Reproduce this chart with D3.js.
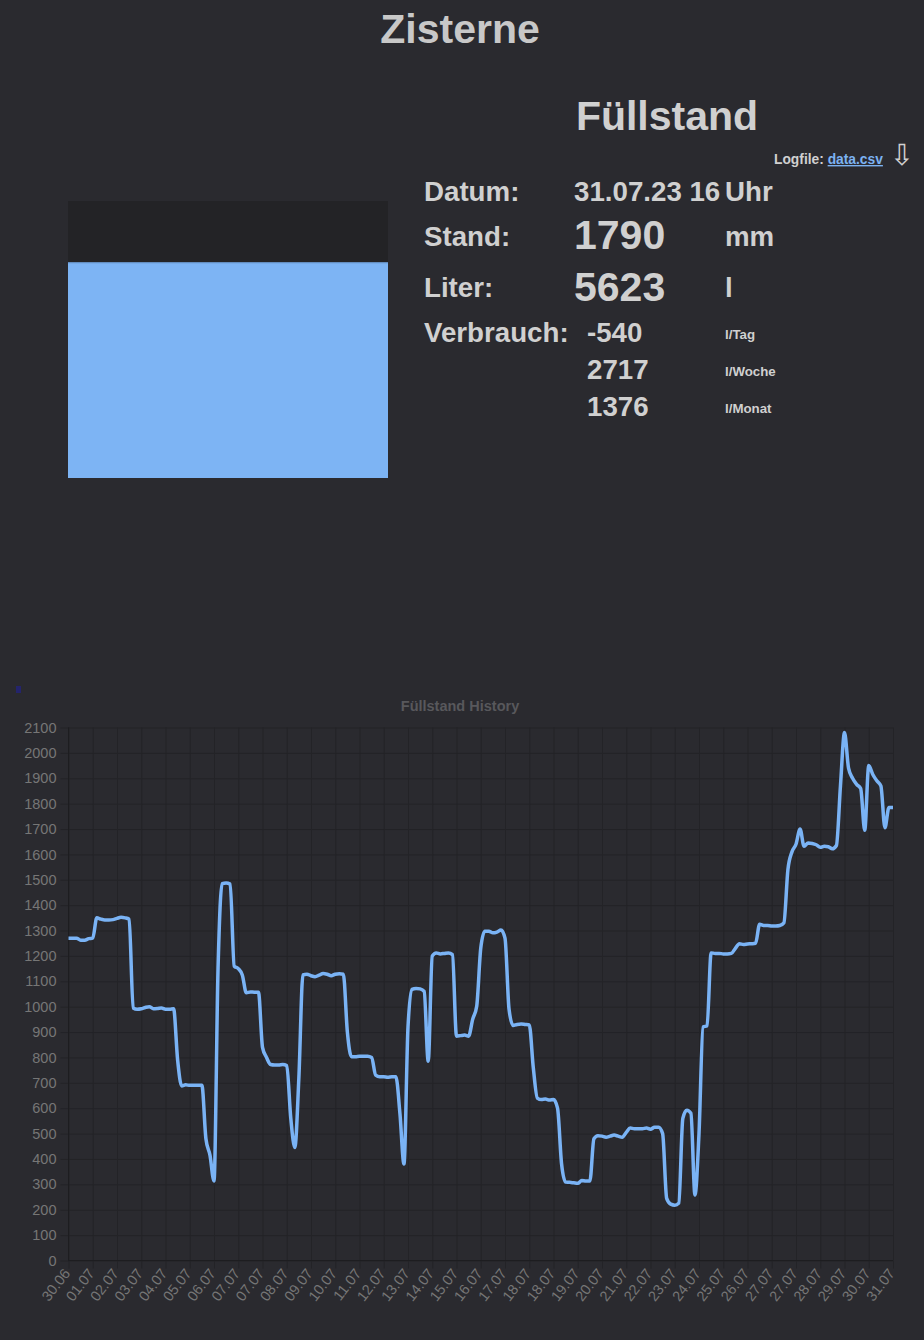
<!DOCTYPE html>
<html>
<head>
<meta charset="utf-8">
<title>Zisterne</title>
<script src="https://cdn.jsdelivr.net/npm/d3@7"></script>
<style>
	body { margin: 0; background: #2a2a2f; }
	svg { display: block; font-family: "Liberation Sans", Arial, sans-serif; }
	.grid line { stroke: #232327; }
	.grid path { display: none; }
	.axis path { display: none; }
	.axis line { stroke: #232327; }
	.axis text { fill: #767676; font-size: 14.5px; }
</style>
</head>
<body>
<svg id="page" width="924" height="1340"></svg>
<script>
// tick labels of the history chart (one every 6 readings)
var tickLabels = ["30.06", "01.07", "02.07", "03.07", "04.07", "05.07", "06.07", "07.07", "07.07",
	"08.07", "09.07", "10.07", "11.07", "12.07", "13.07", "14.07", "15.07", "16.07", "17.07",
	"18.07", "18.07", "19.07", "20.07", "21.07", "22.07", "23.07", "24.07", "25.07", "26.07",
	"27.07", "27.07", "28.07", "29.07", "30.07", "31.07"];
var tickEvery = 6;

// Füllstand in mm
var levels = [
	1270, 1270, 1270, 1262, 1262, 1268,
	1270, 1350, 1345, 1342, 1342, 1343,
	1348, 1352, 1350, 1345, 995, 990,
	992, 997, 1000, 992, 993, 995,
	990, 990, 992, 790, 688, 692,
	690, 690, 690, 690, 480, 415,
	313, 1150, 1485, 1487, 1483, 1160,
	1150, 1125, 1055, 1058, 1057, 1057,
	840, 800, 772, 770, 770, 772,
	768, 560, 445, 720, 1125, 1128,
	1122, 1118, 1124, 1131, 1128, 1122,
	1128, 1130, 1128, 900, 803, 803,
	805, 805, 805, 800, 730, 724,
	724, 722, 724, 724, 580, 380,
	920, 1068, 1072, 1070, 1060, 785,
	1200, 1212, 1208, 1210, 1212, 1205,
	884, 886, 888, 884, 950, 1002,
	1230, 1297, 1297, 1291, 1294, 1302,
	1270, 990, 926, 930, 932, 930,
	928, 760, 640, 634, 636, 632,
	634, 600, 380, 309, 308, 306,
	304, 315, 313, 313, 480, 492,
	490, 486, 490, 494, 490, 486,
	505, 522, 519, 519, 519, 522,
	517, 525, 525, 500, 245, 222,
	218, 226, 560, 592, 580, 258,
	500, 920, 925, 1212, 1210, 1210,
	1208, 1208, 1210, 1230, 1248, 1245,
	1247, 1248, 1250, 1325, 1320, 1320,
	1318, 1318, 1320, 1330, 1540, 1610,
	1640, 1700, 1632, 1645, 1643, 1638,
	1628, 1632, 1630, 1622, 1635, 1870,
	2080, 1940, 1900, 1876, 1860, 1695,
	1950, 1915, 1890, 1870, 1705, 1785,
	1785
];

// current readings
var infoLabels = ["Datum:", "Stand:", "Liter:", "Verbrauch:"];
var datum = "31.07.23 16";
var stand = 1790;
var liter = 5623;
var tankMax = 2300;
var verbrauch = [-540, 2717, 1376];
var verbrauchUnits = ["l/Tag", "l/Woche", "l/Monat"];

var svg = d3.select("#page");
var textColor = "#d0d0d0";

svg.append("text")
	.attr("x", 460).attr("y", 43)
	.attr("text-anchor", "middle")
	.attr("font-size", 41).attr("font-weight", "bold")
	.attr("fill", "#c8c8c8")
	.text("Zisterne");

// tank
var tank = { x: 68, top: 201, bottom: 478, width: 320 };
var tankScale = d3.scaleLinear().domain([0, tankMax]).range([tank.bottom, tank.top]);

svg.append("rect")
	.attr("x", tank.x).attr("y", tank.top)
	.attr("width", tank.width).attr("height", tank.bottom - tank.top)
	.attr("fill", "#232326");
svg.append("rect")
	.attr("x", tank.x).attr("y", tankScale(stand))
	.attr("width", tank.width).attr("height", tank.bottom - tankScale(stand))
	.attr("fill", "#7db4f4");
svg.append("line")
	.attr("x1", tank.x).attr("x2", tank.x + tank.width)
	.attr("y1", tankScale(stand) + 0.5).attr("y2", tankScale(stand) + 0.5)
	.attr("stroke", "#6c9dd6");

// info panel
svg.append("text")
	.attr("x", 667).attr("y", 130)
	.attr("text-anchor", "middle")
	.attr("font-size", 41).attr("font-weight", "bold")
	.attr("fill", textColor)
	.text("Füllstand");

var log = svg.append("text")
	.attr("x", 774).attr("y", 164)
	.attr("font-size", 13.8).attr("font-weight", "bold")
	.attr("fill", textColor);
log.append("tspan").text("Logfile: ");
log.append("tspan").attr("fill", "#7cb2f2").attr("text-decoration", "underline").text("data.csv");

svg.append("text")
	.attr("x", 902).attr("y", 165)
	.attr("text-anchor", "middle")
	.attr("font-family", "DejaVu Sans")
	.attr("font-size", 29)
	.attr("fill", textColor)
	.text("\u21E9");

var rowY = [201, 246, 297, 342];
var labelSize = 27.7;
var info = svg.append("g")
	.attr("font-weight", "bold")
	.attr("fill", textColor);

info.selectAll(".lbl")
	.data(infoLabels)
	.enter()
	.append("text")
	.attr("class", "lbl")
	.attr("x", 424)
	.attr("y", function (d, i) { return rowY[i]; })
	.attr("font-size", labelSize)
	.text(function (d) { return d; });

info.append("text").attr("x", 574).attr("y", rowY[0]).attr("font-size", labelSize).text(datum);
info.append("text").attr("x", 725).attr("y", rowY[0]).attr("font-size", labelSize).text("Uhr");
info.append("text").attr("x", 574).attr("y", rowY[1] + 3).attr("font-size", 41).text(stand);
info.append("text").attr("x", 725).attr("y", rowY[1]).attr("font-size", labelSize).text("mm");
info.append("text").attr("x", 574).attr("y", rowY[2] + 4).attr("font-size", 41).text(liter);
info.append("text").attr("x", 725).attr("y", rowY[2]).attr("font-size", labelSize).text("l");

info.selectAll(".vb")
	.data(verbrauch)
	.enter()
	.append("text")
	.attr("class", "vb")
	.attr("x", 587)
	.attr("y", function (d, i) { return rowY[3] + i * 37; })
	.attr("font-size", labelSize)
	.text(function (d) { return d; });

info.selectAll(".vu")
	.data(verbrauchUnits)
	.enter()
	.append("text")
	.attr("class", "vu")
	.attr("x", 725)
	.attr("y", function (d, i) { return rowY[3] - 3 + i * 37; })
	.attr("font-size", 13.3)
	.text(function (d) { return d; });

// history chart
var plot = { left: 68.5, right: 893, top: 727.5, bottom: 1260.5 };

svg.append("rect")
	.attr("x", 16).attr("y", 686)
	.attr("width", 5).attr("height", 7)
	.attr("fill", "#24246c");

svg.append("text")
	.attr("x", 460).attr("y", 711)
	.attr("text-anchor", "middle")
	.attr("font-size", 14.5).attr("font-weight", "bold")
	.attr("fill", "#58585c")
	.text("Füllstand History");

var xScale = d3.scaleLinear().domain([0, levels.length - 1]).range([plot.left, plot.right]);
var yScale = d3.scaleLinear().domain([0, 2100]).range([plot.bottom, plot.top]);
var xTicks = d3.range(0, levels.length, tickEvery);
var yTicks = d3.range(0, 2101, 100);

svg.append("g")
	.attr("class", "grid")
	.attr("transform", "translate(" + plot.left + ",0)")
	.call(d3.axisLeft(yScale).tickValues(yTicks).tickSize(-(plot.right - plot.left)).tickFormat(""));

svg.append("g")
	.attr("class", "grid")
	.attr("transform", "translate(0," + plot.top + ")")
	.call(d3.axisBottom(xScale).tickValues(xTicks).tickSize(plot.bottom - plot.top).tickFormat(""));

svg.append("g")
	.attr("class", "axis axis--y")
	.attr("transform", "translate(" + plot.left + ",0)")
	.call(d3.axisLeft(yScale).tickValues(yTicks).tickSize(8).tickPadding(4).tickFormat(d3.format("d")));

svg.append("g")
	.attr("class", "axis axis--x")
	.attr("transform", "translate(0," + plot.bottom + ")")
	.call(d3.axisBottom(xScale).tickValues(xTicks).tickSize(8)
		.tickFormat(function (d, i) { return tickLabels[i]; }))
	.selectAll("text")
	.attr("x", 0).attr("y", 0).attr("dy", "0.35em")
	.attr("text-anchor", "end")
	.attr("transform", "translate(-2,10) rotate(-52)");

svg.append("line")
	.attr("x1", plot.left).attr("x2", plot.left)
	.attr("y1", plot.top).attr("y2", plot.bottom)
	.attr("stroke", "#1d1d20");
svg.append("line")
	.attr("x1", plot.left).attr("x2", plot.right)
	.attr("y1", plot.bottom).attr("y2", plot.bottom)
	.attr("stroke", "#1d1d20");

var line = d3.line()
	.x(function (d, i) { return xScale(i); })
	.y(function (d) { return yScale(d); })
	.curve(d3.curveMonotoneX);

svg.append("path")
	.datum(levels)
	.attr("fill", "none")
	.attr("stroke", "#7ab3f5")
	.attr("stroke-width", 3.5)
	.attr("stroke-linejoin", "round")
	.attr("d", line);
</script>
</body>
</html>
